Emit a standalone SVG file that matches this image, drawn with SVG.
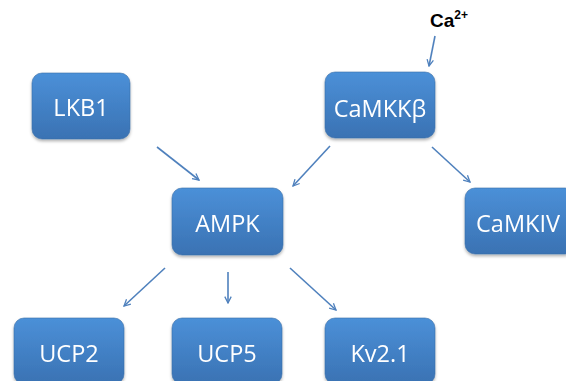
<svg xmlns="http://www.w3.org/2000/svg" width="566" height="381" viewBox="0 0 566 381">
<style>
.box{fill:url(#g);stroke:#3a6ea8;stroke-width:0.6}
.lbl{font-family:"Open Sans","Noto Sans",sans-serif;font-size:23.5px;fill:#ffffff;text-anchor:middle}
.conn{stroke:#4f81bd;stroke-width:1.6;fill:none;marker-end:url(#a)}
</style>
<defs>
<linearGradient id="g" x1="0" y1="0" x2="0" y2="1">
<stop offset="0" stop-color="#4b90d8"/>
<stop offset="1" stop-color="#3a72b3"/>
</linearGradient>
<filter id="sh" x="-10%" y="-10%" width="130%" height="130%">
<feDropShadow dx="0" dy="2" stdDeviation="1.5" flood-color="#000" flood-opacity="0.3"/>
</filter>
<marker id="a" viewBox="0 0 10 10" refX="9" refY="5" markerWidth="8" markerHeight="8" markerUnits="userSpaceOnUse" orient="auto">
<path d="M1,1 L9,5 L1,9" fill="none" stroke="#4f81bd" stroke-width="1.6"/>
</marker>
</defs>
<text x="430" y="27" font-family="'Liberation Sans',Arial,sans-serif" font-weight="bold" font-size="19" fill="#000">Ca<tspan font-size="12" dy="-8">2+</tspan></text>
<g id="connectors">
<line class="conn" x1="435" y1="36" x2="429" y2="66"/>
<line class="conn" x1="157" y1="147" x2="199" y2="180"/>
<line class="conn" x1="330" y1="146" x2="293" y2="186"/>
<line class="conn" x1="432" y1="147" x2="470" y2="182"/>
<line class="conn" x1="165" y1="268" x2="124" y2="306"/>
<line class="conn" x1="228" y1="272" x2="228" y2="303"/>
<line class="conn" x1="290" y1="268" x2="336" y2="310"/>
</g>
<g id="LKB1" filter="url(#sh)"><rect class="box" x="32" y="73" width="98" height="66" rx="10"/><text class="lbl" x="81" y="116">LKB1</text></g>
<g id="CaMKKb" filter="url(#sh)"><rect class="box" x="325" y="72" width="110" height="66" rx="10"/><text class="lbl" x="380" y="117">CaMKKβ</text></g>
<g id="AMPK" filter="url(#sh)"><rect class="box" x="172" y="188" width="111" height="67" rx="10"/><text class="lbl" x="227.5" y="232">AMPK</text></g>
<g id="CaMKIV" filter="url(#sh)"><rect class="box" x="465" y="188" width="110" height="66" rx="10"/><text class="lbl" x="518" y="232">CaMKIV</text></g>
<g id="UCP2" filter="url(#sh)"><rect class="box" x="14" y="318" width="110" height="66" rx="10"/><text class="lbl" x="69" y="362">UCP2</text></g>
<g id="UCP5" filter="url(#sh)"><rect class="box" x="172" y="318" width="110" height="66" rx="10"/><text class="lbl" x="227" y="362">UCP5</text></g>
<g id="Kv21" filter="url(#sh)"><rect class="box" x="325" y="318" width="110" height="66" rx="10"/><text class="lbl" x="380" y="362">Kv2.1</text></g>
</svg>
